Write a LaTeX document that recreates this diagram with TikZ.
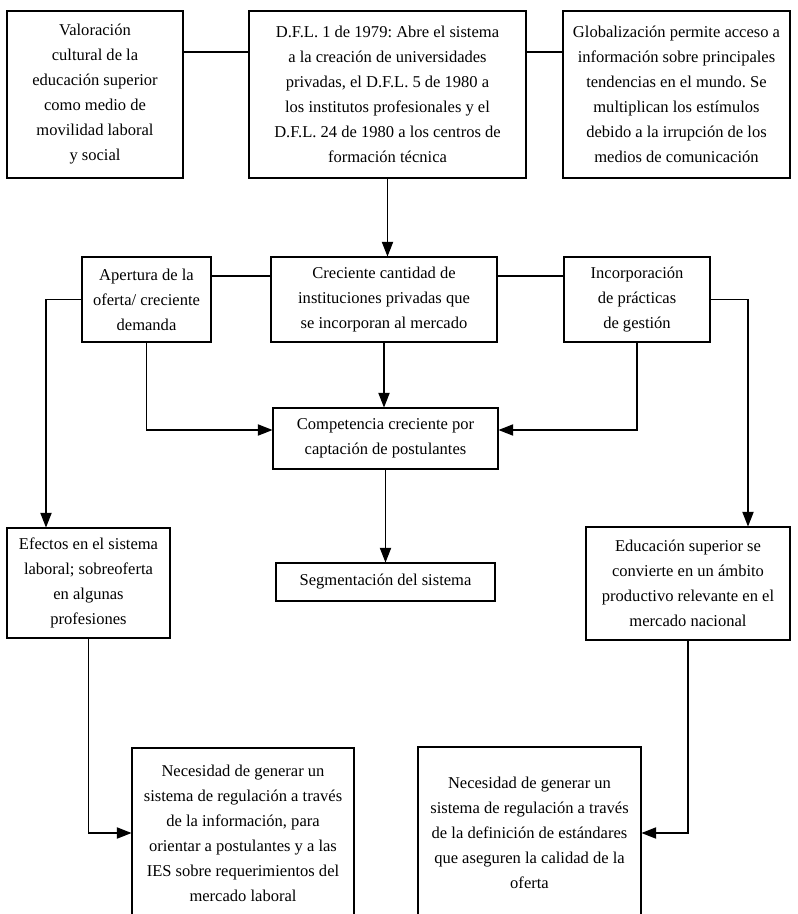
\documentclass[tikz,border=0pt]{standalone}
\usepackage{fontspec}
\setmainfont{Liberation Serif}
\usetikzlibrary{arrows.meta}
\frenchspacing

\begin{document}
\begin{tikzpicture}[x=0.75pt,y=-0.75pt,
  caja/.style={draw,line width=0.8pt,align=center,inner sep=0pt,
    font=\fontsize{12.4}{18.75}\selectfont},
  tam/.style 2 args={minimum width=#1*0.75pt,minimum height=#2*0.75pt},
  linea/.style={line width=0.8pt},
  flecha/.style={line width=0.8pt,-{Triangle[length=11pt,width=8.5pt]}}]
\useasboundingbox (0,0) rectangle (797,914);
\clip (0,0) rectangle (797,914);
\fill[white] (0,0) rectangle (797,914);

\node[caja,tam={176}{167}] (valor) at (95,94.5) {Valoración\\cultural de la\\educación superior\\como medio de\\movilidad laboral\\y social};
\node[caja,tam={277}{167}] (dfl) at (387.5,94.5) {D.F.L. 1 de 1979: Abre el sistema\\a la creación de universidades\\privadas, el D.F.L. 5 de 1980 a\\los institutos profesionales y el\\D.F.L. 24 de 1980 a los centros de\\formación técnica};
\node[caja,tam={227}{167}] (glob) at (676.5,94.5) {Globalización permite acceso a\\información sobre principales\\tendencias en el mundo. Se\\multiplican los estímulos\\debido a la irrupción de los\\medios de comunicación};

\node[caja,tam={129}{85}] (apert) at (146.5,299.5) {Apertura de la\\oferta/ creciente\\demanda};
\node[caja,tam={226}{85}] (crec) at (384,299.5) {Creciente cantidad de\\instituciones privadas que\\se incorporan al mercado};
\node[caja,tam={146}{85}] (incorp) at (637,299.5) {Incorporación\\de prácticas\\de gestión};
\node[caja,tam={225}{61}] (compet) at (385.5,438.5) {Competencia creciente por\\captación de postulantes};

\node[caja,tam={163}{110}] (efect) at (88.5,583) {Efectos en el sistema\\laboral; sobreoferta\\en algunas\\profesiones};
\node[caja,tam={219}{38}] (segm) at (385.5,582) {Segmentación del sistema};
\node[caja,tam={204}{113}] (educ) at (688,583.5) {Educación superior se\\convierte en un ámbito\\productivo relevante en el\\mercado nacional};

\node[caja,tam={222}{170}] (nec1) at (243,833) {Necesidad de generar un\\sistema de regulación a través\\de la información, para\\orientar a postulantes y a las\\IES sobre requerimientos del\\mercado laboral};
\node[caja,tam={223}{172}] (nec2) at (529.5,833) {Necesidad de generar un\\sistema de regulación a través\\de la definición de estándares\\que aseguren la calidad de la\\oferta};

% filas y columnas de los conectores
\coordinate (fila1) at (0,52);
\coordinate (fila2) at (0,276);
\coordinate (fila3) at (0,430);
\coordinate (col1) at (46,0);
\coordinate (col2) at (748,0);

\draw[linea] (valor.east |- fila1) -- (dfl.west |- fila1);
\draw[linea] (dfl.east |- fila1) -- (glob.west |- fila1);
\draw[flecha] (dfl.south) -- (dfl.south |- crec.north);
\draw[linea] (apert.east |- fila2) -- (crec.west |- fila2);
\draw[linea] (crec.east |- fila2) -- (incorp.west |- fila2);
\draw[flecha] (crec.south) -- (crec.south |- compet.north);
\draw[flecha] (apert.south) |- (compet.west |- fila3);
\draw[flecha] (incorp.south) |- (compet.east |- fila3);
\draw[flecha] (apert.west) -| (col1 |- efect.north);
\draw[flecha] (incorp.east) -| (col2 |- educ.north);
\draw[flecha] (compet.south) -- (compet.south |- segm.north);
\draw[flecha] (efect.south) |- (nec1.west);
\draw[flecha] (educ.south) |- (nec2.east);
\end{tikzpicture}
\end{document}
